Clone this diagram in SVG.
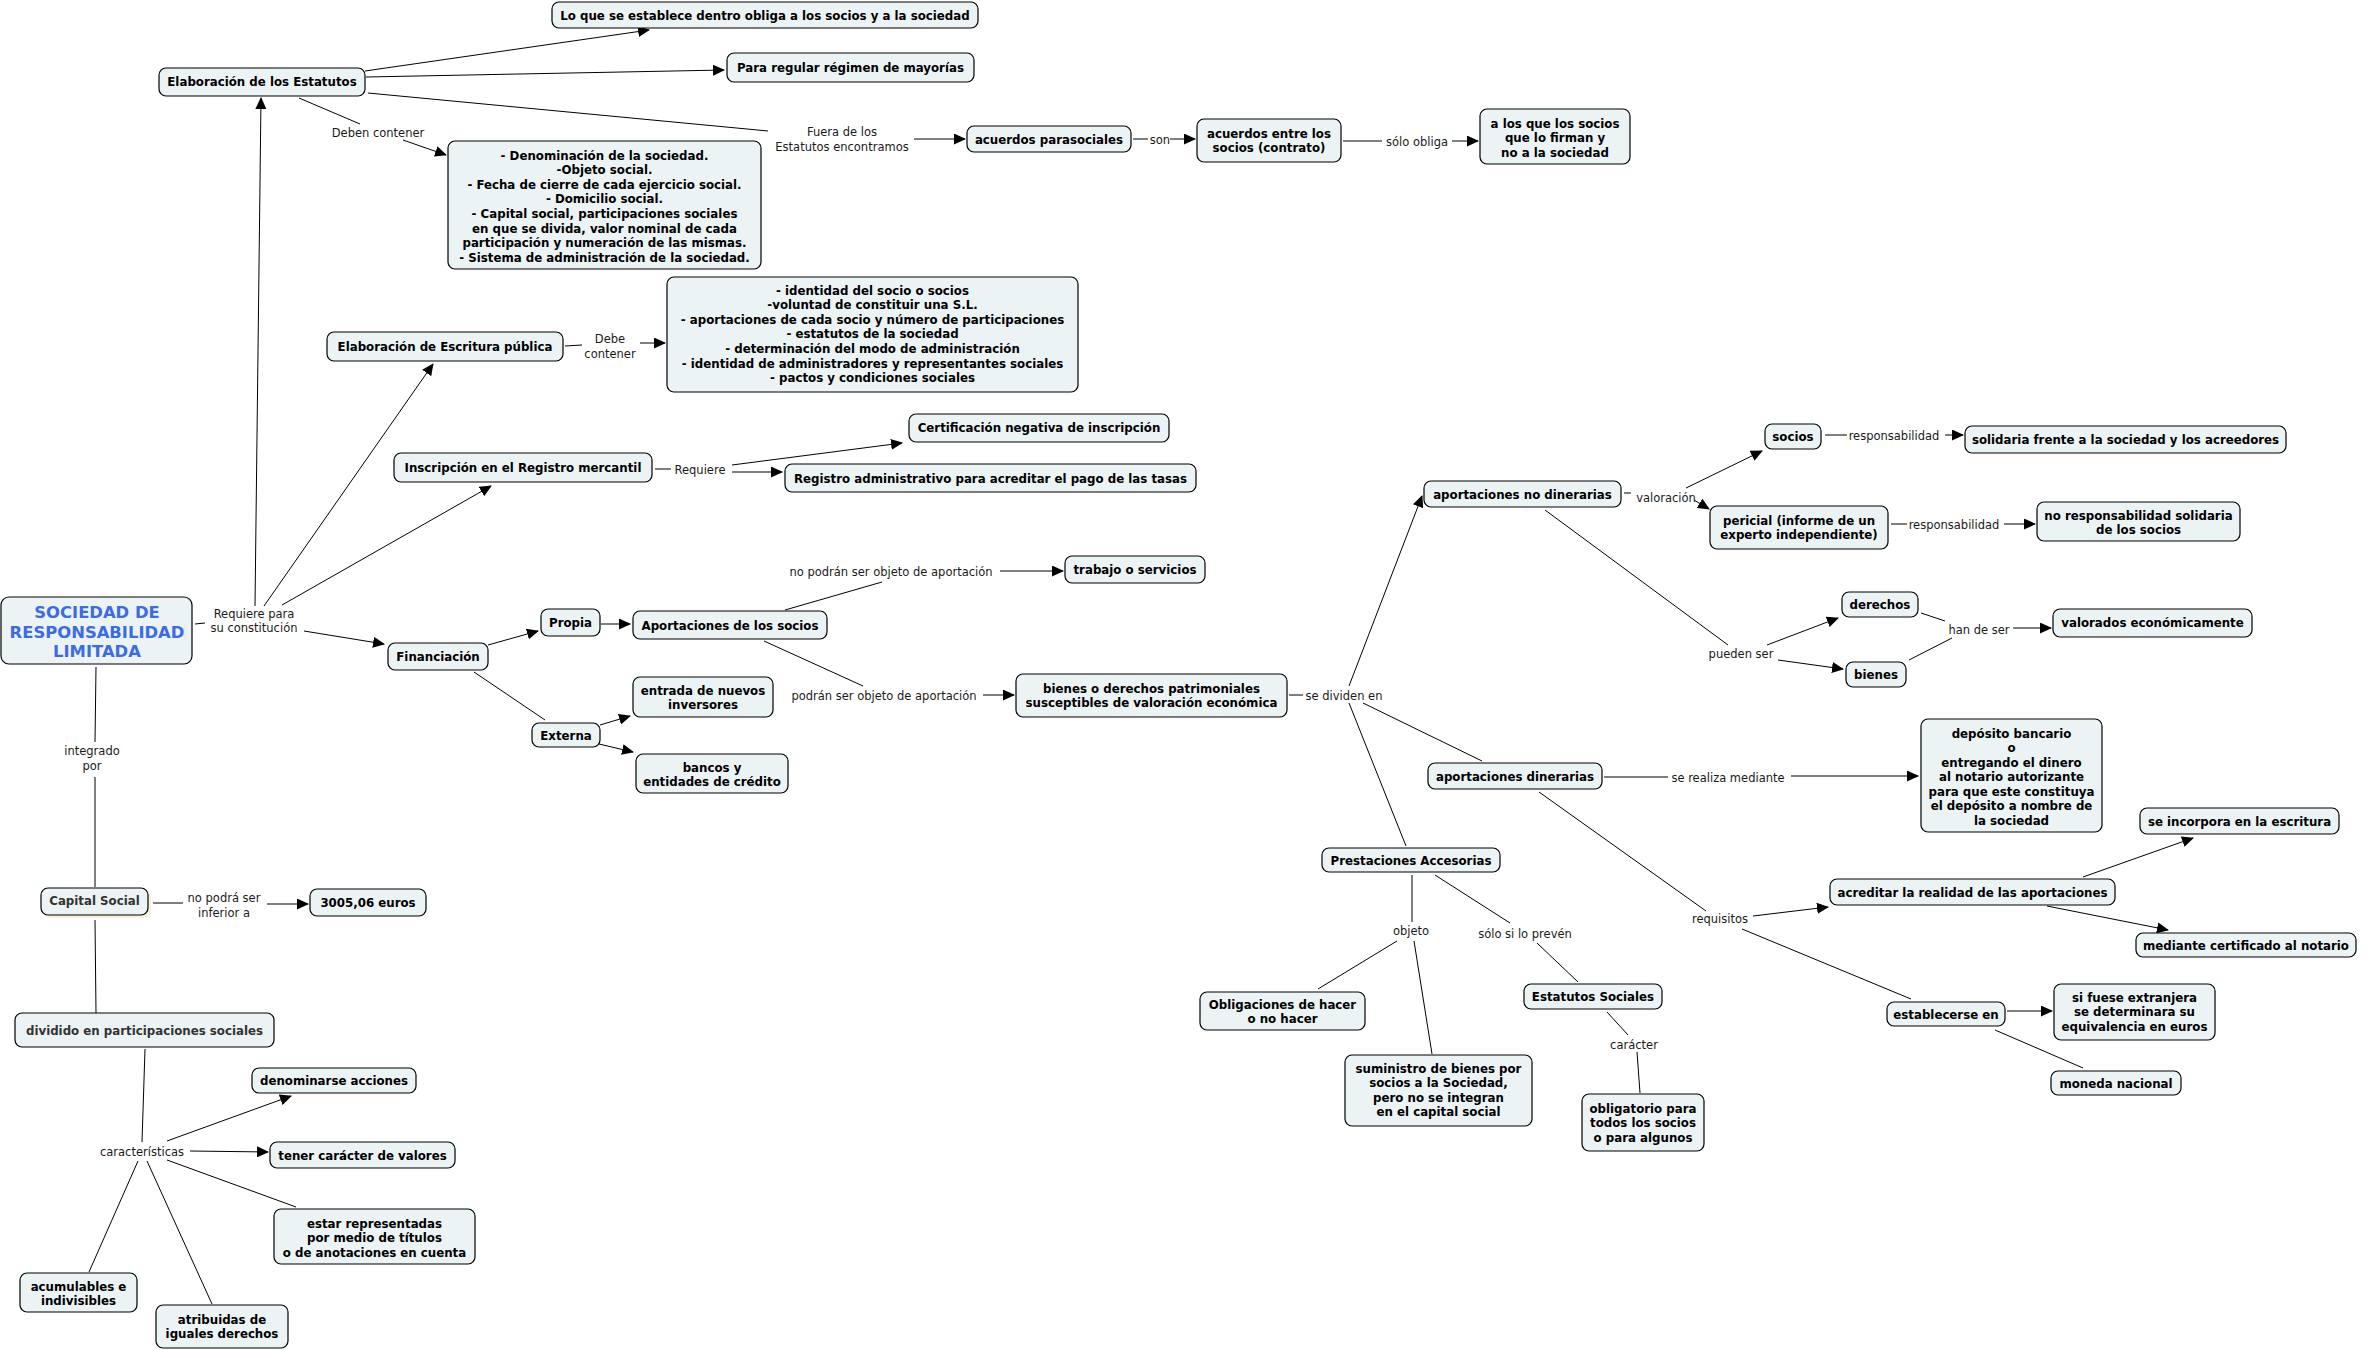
<svg xmlns="http://www.w3.org/2000/svg" width="2367" height="1350" viewBox="0 0 2367 1350">
<defs>
<marker id="ah" markerUnits="userSpaceOnUse" markerWidth="12" markerHeight="11" refX="11" refY="5.5" orient="auto"><path d="M0,0 L12,5.5 L0,11 z" fill="#000"/></marker>
<style>
.n rect{fill:#ecf3f5;stroke:#000;stroke-width:1.2}
.n text{font-family:"DejaVu Sans",Verdana,sans-serif;font-weight:bold;font-size:11.8px;text-anchor:middle;fill:#000}
.lb text{font-family:"DejaVu Sans",Verdana,sans-serif;font-size:11.5px;text-anchor:middle;fill:#1a1a1a}
.c line{stroke:#000;stroke-width:1;fill:none}
.c .a{marker-end:url(#ah)}
</style>
</defs>
<rect width="2367" height="1350" fill="#fff"/>
<g class="c" id="connectors">
<line class="a" x1="365" y1="71" x2="649" y2="30"/>
<line class="a" x1="366" y1="77" x2="724" y2="70"/>
<line x1="368" y1="93" x2="768" y2="131"/>
<line class="a" x1="914" y1="139" x2="965" y2="139"/>
<line x1="1133" y1="139" x2="1148" y2="139"/>
<line class="a" x1="1170" y1="139" x2="1195" y2="139"/>
<line x1="1343" y1="141" x2="1382" y2="141"/>
<line class="a" x1="1452" y1="141" x2="1478" y2="141"/>
<line x1="299" y1="98" x2="360" y2="124"/>
<line class="a" x1="403" y1="140" x2="446" y2="155"/>
<line class="a" x1="255" y1="606" x2="261" y2="98"/>
<line class="a" x1="264" y1="606" x2="433" y2="364"/>
<line x1="565" y1="346" x2="582" y2="345"/>
<line class="a" x1="640" y1="343" x2="665" y2="343"/>
<line class="a" x1="282" y1="605" x2="491" y2="486"/>
<line x1="655" y1="469" x2="671" y2="469"/>
<line class="a" x1="732" y1="465" x2="902" y2="443"/>
<line class="a" x1="732" y1="472" x2="782" y2="472"/>
<line x1="195" y1="624" x2="205" y2="623"/>
<line class="a" x1="304" y1="631" x2="384" y2="644"/>
<line class="a" x1="488" y1="645" x2="538" y2="631"/>
<line class="a" x1="601" y1="624" x2="630" y2="624"/>
<line x1="474" y1="672" x2="545" y2="720"/>
<line class="a" x1="600" y1="725" x2="630" y2="716"/>
<line class="a" x1="599" y1="744" x2="633" y2="752"/>
<line x1="785" y1="610" x2="882" y2="582"/>
<line class="a" x1="1000" y1="571" x2="1063" y2="571"/>
<line x1="764" y1="641" x2="863" y2="686"/>
<line class="a" x1="983" y1="695" x2="1014" y2="695"/>
<line x1="1289" y1="695" x2="1303" y2="695"/>
<line class="a" x1="1349" y1="686" x2="1422" y2="496"/>
<line x1="1363" y1="703" x2="1482" y2="761"/>
<line x1="1349" y1="703" x2="1406" y2="846"/>
<line x1="1624" y1="493" x2="1631" y2="493"/>
<line class="a" x1="1686" y1="488" x2="1762" y2="451"/>
<line class="a" x1="1694" y1="500" x2="1709" y2="509"/>
<line x1="1825" y1="435" x2="1847" y2="435"/>
<line class="a" x1="1945" y1="435" x2="1963" y2="435"/>
<line x1="1891" y1="524" x2="1907" y2="524"/>
<line class="a" x1="2004" y1="524" x2="2035" y2="524"/>
<line x1="1545" y1="510" x2="1728" y2="645"/>
<line class="a" x1="1767" y1="645" x2="1838" y2="618"/>
<line class="a" x1="1778" y1="660" x2="1843" y2="669"/>
<line x1="1921" y1="613" x2="1945" y2="621"/>
<line x1="1909" y1="660" x2="1952" y2="638"/>
<line class="a" x1="2013" y1="628" x2="2051" y2="628"/>
<line x1="1604" y1="777" x2="1668" y2="777"/>
<line class="a" x1="1791" y1="776" x2="1918" y2="776"/>
<line x1="1539" y1="792" x2="1706" y2="911"/>
<line class="a" x1="1753" y1="916" x2="1828" y2="907"/>
<line class="a" x1="2083" y1="877" x2="2193" y2="838"/>
<line class="a" x1="2047" y1="906" x2="2168" y2="930"/>
<line x1="1742" y1="929" x2="1911" y2="999"/>
<line class="a" x1="2007" y1="1011" x2="2052" y2="1011"/>
<line x1="1995" y1="1030" x2="2083" y2="1068"/>
<line x1="1412" y1="875" x2="1412" y2="922"/>
<line x1="1435" y1="875" x2="1510" y2="923"/>
<line x1="1397" y1="941" x2="1318" y2="989"/>
<line x1="1414" y1="941" x2="1432" y2="1054"/>
<line x1="1537" y1="943" x2="1578" y2="982"/>
<line x1="1607" y1="1012" x2="1628" y2="1035"/>
<line x1="1637" y1="1052" x2="1640" y2="1093"/>
<line x1="96" y1="667" x2="95" y2="742"/>
<line x1="95" y1="777" x2="95" y2="887"/>
<line x1="153" y1="903" x2="183" y2="903"/>
<line class="a" x1="267" y1="904" x2="308" y2="904"/>
<line x1="95" y1="920" x2="96" y2="1013"/>
<line x1="145" y1="1049" x2="142" y2="1142"/>
<line class="a" x1="167" y1="1141" x2="291" y2="1096"/>
<line class="a" x1="190" y1="1151" x2="268" y2="1152"/>
<line x1="167" y1="1160" x2="296" y2="1207"/>
<line x1="138" y1="1161" x2="89" y2="1272"/>
<line x1="147" y1="1161" x2="212" y2="1304"/>
</g>
<g class="lb" id="labels">
<text x="378" y="136.5">Deben contener</text>
<text x="610" y="342.5">Debe</text><text x="610" y="357.5">contener</text>
<text x="842" y="135.5">Fuera de los</text><text x="842" y="150.5">Estatutos encontramos</text>
<text x="1160" y="143.5">son</text>
<text x="1417" y="145.5">sólo obliga</text>
<text x="700" y="473.5">Requiere</text>
<text x="254" y="617.5">Requiere para</text><text x="254" y="631.5">su constitución</text>
<text x="92" y="754.5">integrado</text><text x="92" y="769.5">por</text>
<text x="224" y="901.5">no podrá ser</text><text x="224" y="916.5">inferior a</text>
<text x="142" y="1155.5">características</text>
<text x="891" y="575.5">no podrán ser objeto de aportación</text>
<text x="884" y="699.5">podrán ser objeto de aportación</text>
<text x="1344" y="699.5">se dividen en</text>
<text x="1666" y="501.5">valoración</text>
<text x="1894" y="439.5">responsabilidad</text>
<text x="1954" y="528.5">responsabilidad</text>
<text x="1741" y="657.5">pueden ser</text>
<text x="1979" y="633.5">han de ser</text>
<text x="1728" y="781.5">se realiza mediante</text>
<text x="1720" y="922.5">requisitos</text>
<text x="1411" y="934.5">objeto</text>
<text x="1525" y="937.5">sólo si lo prevén</text>
<text x="1634" y="1048.5">carácter</text>
</g>
<g class="n" id="n_srl"><rect x="1" y="597" width="191" height="67" rx="8"/><text x="97" y="618" style="font-size:16.4px;fill:#3d6be2">SOCIEDAD DE</text><text x="97" y="637.5" style="font-size:16.4px;fill:#3d6be2">RESPONSABILIDAD</text><text x="97" y="657" style="font-size:16.4px;fill:#3d6be2">LIMITADA</text></g>
<g class="n" id="n_lo"><rect x="552" y="2" width="426" height="26" rx="7"/><text x="765" y="19.5">Lo que se establece dentro obliga a los socios y a la sociedad</text></g>
<g class="n" id="n_para"><rect x="727" y="53" width="247" height="29" rx="7"/><text x="850.5" y="72">Para regular régimen de mayorías</text></g>
<g class="n" id="n_elab"><rect x="159" y="68" width="206" height="28" rx="7"/><text x="262" y="86">Elaboración de los Estatutos</text></g>
<g class="n" id="n_denom"><rect x="448" y="141" width="313" height="128" rx="7"/>
<text x="604.5" y="159.5">- Denominación de la sociedad.</text>
<text x="604.5" y="174.1">-Objeto social.</text>
<text x="604.5" y="188.7">- Fecha de cierre de cada ejercicio social.</text>
<text x="604.5" y="203.3">- Domicilio social.</text>
<text x="604.5" y="217.9">- Capital social, participaciones sociales</text>
<text x="604.5" y="232.5">en que se divida, valor nominal de cada</text>
<text x="604.5" y="247.1">participación y numeración de las mismas.</text>
<text x="604.5" y="261.7">- Sistema de administración de la sociedad.</text></g>
<g class="n" id="n_escr"><rect x="327" y="332" width="236" height="29" rx="7"/><text x="445" y="351">Elaboración de Escritura pública</text></g>
<g class="n" id="n_ident"><rect x="667" y="277" width="411" height="115" rx="7"/>
<text x="872.5" y="294.5">- identidad del socio o socios</text>
<text x="872.5" y="309.1">-voluntad de constituir una S.L.</text>
<text x="872.5" y="323.7">- aportaciones de cada socio y número de participaciones</text>
<text x="872.5" y="338.3">- estatutos de la sociedad</text>
<text x="872.5" y="352.9">- determinación del modo de administración</text>
<text x="872.5" y="367.5">- identidad de administradores y representantes sociales</text>
<text x="872.5" y="382.1">- pactos y condiciones sociales</text></g>
<g class="n" id="n_acpar"><rect x="967" y="126" width="164" height="26" rx="7"/><text x="1049" y="143.5">acuerdos parasociales</text></g>
<g class="n" id="n_acent"><rect x="1197" y="119" width="144" height="43" rx="7"/><text x="1269" y="137.5">acuerdos entre los</text><text x="1269" y="151.5">socios (contrato)</text></g>
<g class="n" id="n_alos"><rect x="1480" y="109" width="150" height="55" rx="7"/><text x="1555" y="127.5">a los que los socios</text><text x="1555" y="142">que lo firman y</text><text x="1555" y="156.5">no a la sociedad</text></g>
<g class="n" id="n_cert"><rect x="909" y="414" width="260" height="28" rx="7"/><text x="1039" y="432">Certificación negativa de inscripción</text></g>
<g class="n" id="n_insc"><rect x="394" y="453" width="258" height="29" rx="7"/><text x="523" y="472">Inscripción en el Registro mercantil</text></g>
<g class="n" id="n_regadm"><rect x="785" y="464" width="411" height="28" rx="7"/><text x="990.5" y="482.5">Registro administrativo para acreditar el pago de las tasas</text></g>
<g class="n" id="n_fin"><rect x="388" y="643" width="100" height="27" rx="7"/><text x="438" y="661">Financiación</text></g>
<g class="n" id="n_propia"><rect x="541" y="609" width="59" height="27" rx="7"/><text x="570.5" y="627">Propia</text></g>
<g class="n" id="n_aport"><rect x="633" y="611" width="194" height="28" rx="7"/><text x="730" y="629.5">Aportaciones de los socios</text></g>
<g class="n" id="n_ext"><rect x="532" y="723" width="68" height="24" rx="7"/><text x="566" y="739.5">Externa</text></g>
<g class="n" id="n_entrada"><rect x="633" y="677" width="140" height="40" rx="7"/><text x="703" y="694.5">entrada de nuevos</text><text x="703" y="708.5">inversores</text></g>
<g class="n" id="n_bancos"><rect x="636" y="754" width="152" height="39" rx="7"/><text x="712" y="771.5">bancos y</text><text x="712" y="785.5">entidades de crédito</text></g>
<g class="n" id="n_trabajo"><rect x="1065" y="556" width="140" height="27" rx="7"/><text x="1135" y="574">trabajo o servicios</text></g>
<g class="n" id="n_bienesder"><rect x="1016" y="674" width="271" height="43" rx="7"/><text x="1151.5" y="692.5">bienes o derechos patrimoniales</text><text x="1151.5" y="707">susceptibles de valoración económica</text></g>
<g class="n" id="n_nodin"><rect x="1424" y="481" width="197" height="26" rx="7"/><text x="1522.5" y="498.5">aportaciones no dinerarias</text></g>
<g class="n" id="n_din"><rect x="1428" y="763" width="174" height="26" rx="7"/><text x="1515" y="780.5">aportaciones dinerarias</text></g>
<g class="n" id="n_prest"><rect x="1322" y="848" width="178" height="24" rx="7"/><text x="1411" y="864.5">Prestaciones Accesorias</text></g>
<g class="n" id="n_oblig"><rect x="1200" y="992" width="165" height="38" rx="7"/><text x="1282.5" y="1008.5">Obligaciones de hacer</text><text x="1282.5" y="1023">o no hacer</text></g>
<g class="n" id="n_sumin"><rect x="1345" y="1055" width="187" height="71" rx="7"/><text x="1438.5" y="1072.5">suministro de bienes por</text><text x="1438.5" y="1087">socios a la Sociedad,</text><text x="1438.5" y="1101.5">pero no se integran</text><text x="1438.5" y="1116">en el capital social</text></g>
<g class="n" id="n_estsoc"><rect x="1524" y="984" width="138" height="25" rx="7"/><text x="1593" y="1001">Estatutos Sociales</text></g>
<g class="n" id="n_oblig2"><rect x="1582" y="1094" width="122" height="57" rx="7"/><text x="1643" y="1112.5">obligatorio para</text><text x="1643" y="1127">todos los socios</text><text x="1643" y="1141.5">o para algunos</text></g>
<g class="n" id="n_socios"><rect x="1765" y="424" width="56" height="25" rx="7"/><text x="1793" y="441">socios</text></g>
<g class="n" id="n_solid"><rect x="1965" y="426" width="321" height="27" rx="7"/><text x="2125.5" y="444">solidaria frente a la sociedad y los acreedores</text></g>
<g class="n" id="n_peric"><rect x="1710" y="506" width="178" height="43" rx="7"/><text x="1799" y="524.5">pericial (informe de un</text><text x="1799" y="539">experto independiente)</text></g>
<g class="n" id="n_noresp"><rect x="2037" y="502" width="203" height="39" rx="7"/><text x="2138.5" y="519.5">no responsabilidad solidaria</text><text x="2138.5" y="533.5">de los socios</text></g>
<g class="n" id="n_derechos"><rect x="1842" y="592" width="76" height="25" rx="7"/><text x="1880" y="609">derechos</text></g>
<g class="n" id="n_bienes"><rect x="1846" y="662" width="60" height="25" rx="7"/><text x="1876" y="679">bienes</text></g>
<g class="n" id="n_valor"><rect x="2053" y="609" width="199" height="28" rx="7"/><text x="2152.5" y="627">valorados económicamente</text></g>
<g class="n" id="n_depos"><rect x="1921" y="719" width="181" height="113" rx="7"/>
<text x="2011.5" y="737.5">depósito bancario</text>
<text x="2011.5" y="752">o</text>
<text x="2011.5" y="766.5">entregando el dinero</text>
<text x="2011.5" y="781">al notario autorizante</text>
<text x="2011.5" y="795.5">para que este constituya</text>
<text x="2011.5" y="810">el depósito a nombre de</text>
<text x="2011.5" y="824.5">la sociedad</text></g>
<g class="n" id="n_incorp"><rect x="2140" y="808" width="199" height="26" rx="7"/><text x="2239.5" y="825.5">se incorpora en la escritura</text></g>
<g class="n" id="n_acred"><rect x="1830" y="879" width="285" height="26" rx="7"/><text x="1972.5" y="896.5">acreditar la realidad de las aportaciones</text></g>
<g class="n" id="n_medi"><rect x="2136" y="933" width="220" height="24" rx="7"/><text x="2246" y="949.5">mediante certificado al notario</text></g>
<g class="n" id="n_estab"><rect x="1887" y="1002" width="118" height="24" rx="7"/><text x="1946" y="1018.5">establecerse en</text></g>
<g class="n" id="n_sifuese"><rect x="2054" y="984" width="161" height="56" rx="7"/><text x="2134.5" y="1001.5">si fuese extranjera</text><text x="2134.5" y="1016">se determinara su</text><text x="2134.5" y="1030.5">equivalencia en euros</text></g>
<g class="n" id="n_moneda"><rect x="2051" y="1071" width="130" height="24" rx="7"/><text x="2116" y="1087.5">moneda nacional</text></g>
<g class="n" id="n_capital"><rect x="44" y="891" width="107" height="27" rx="7" style="fill:#f3f1e2;stroke:none"/><rect x="41" y="888" width="107" height="27" rx="7"/><text x="94.5" y="905" style="fill:#333">Capital Social</text></g>
<g class="n" id="n_3005"><rect x="310" y="889" width="116" height="27" rx="7"/><text x="368" y="907">3005,06 euros</text></g>
<g class="n" id="n_divid"><rect x="15" y="1013" width="259" height="34" rx="7"/><text x="144.5" y="1034.5" style="fill:#333">dividido en participaciones sociales</text></g>
<g class="n" id="n_denom2"><rect x="252" y="1068" width="164" height="25" rx="7"/><text x="334" y="1085">denominarse acciones</text></g>
<g class="n" id="n_tener"><rect x="270" y="1142" width="185" height="26" rx="7"/><text x="362.5" y="1159.5">tener carácter de valores</text></g>
<g class="n" id="n_estar"><rect x="274" y="1209" width="201" height="55" rx="7"/><text x="374.5" y="1227.5">estar representadas</text><text x="374.5" y="1242">por medio de títulos</text><text x="374.5" y="1256.5">o de anotaciones en cuenta</text></g>
<g class="n" id="n_acum"><rect x="20" y="1273" width="117" height="39" rx="7"/><text x="78.5" y="1290.5">acumulables e</text><text x="78.5" y="1304.5">indivisibles</text></g>
<g class="n" id="n_atrib"><rect x="156" y="1305" width="132" height="43" rx="7"/><text x="222" y="1323.5">atribuidas de</text><text x="222" y="1338">iguales derechos</text></g>
</svg>
